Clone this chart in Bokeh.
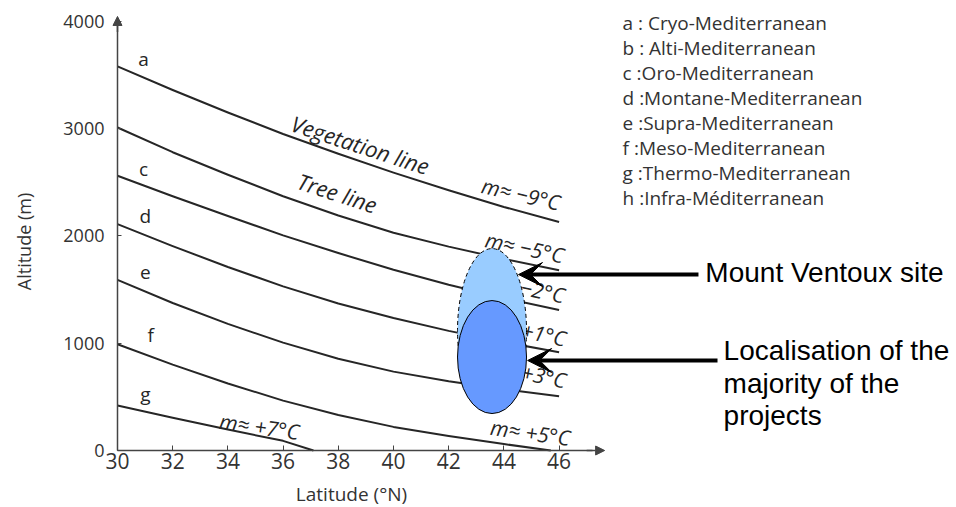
import math
from bokeh.plotting import figure
from bokeh.models import Range1d, FixedTicker, Arrow, VeeHead, NormalHead
from bokeh.core.properties import value
from bokeh.embed import file_html
from bokeh.resources import INLINE

# ---------------- data ----------------
lat_grid = [30, 32, 34, 36, 38, 40, 42, 44, 46]
alt_a_vegetation = [3580, 3360, 3150, 2950, 2765, 2590, 2425, 2270, 2130]
alt_b_tree = [3010, 2780, 2570, 2370, 2190, 2030, 1900, 1785, 1680]
alt_c = [2560, 2370, 2185, 2005, 1840, 1685, 1545, 1420, 1310]
alt_d = [2110, 1905, 1710, 1530, 1370, 1235, 1115, 1010, 916]
alt_e = [1590, 1375, 1180, 1005, 855, 735, 645, 570, 505]
lat_f = [30, 32, 34, 36, 38, 40, 42, 44, 45.7]
alt_f = [990, 800, 625, 465, 330, 220, 135, 60, 0]
lat_g = [30, 32, 34, 36, 37.1]
alt_g = [420, 305, 195, 90, 0]

lat_ticks = [30, 32, 34, 36, 38, 40, 42, 44, 46]
alt_ticks = [0, 1000, 2000, 3000, 4000]

zone_letters = ["a", "c", "d", "e", "f", "g"]
zone_legend = [
    "a :  Cryo-Mediterranean",
    "b :  Alti-Mediterranean",
    "c :Oro-Mediterranean",
    "d :Montane-Mediterranean",
    "e :Supra-Mediterranean",
    "f :Meso-Mediterranean",
    "g :Thermo-Mediterranean",
    "h :Infra-Méditerranean",
]
isotherm_labels = ["m≈ −9°C", "m≈ −5°C", "m≈ −2°C", "m≈ +1°C",
                   "m≈ +3°C", "m≈ +5°C", "m≈ +7°C"]

# zones of interest (centre lat, centre alt, width in deg, height in m)
ventoux_zone = (43.57, 1118, 2.50, 1528)
projects_zone = (43.57, 871, 2.50, 1053)

# ---------------- label placement (styling) ----------------
letter_lat = [30.94, 30.94, 31.01, 31.01, 31.2, 31.01]
letter_alt = [3653, 2628, 2190, 1659, 1072, 522]
iso_lat = [44.62, 44.75, 44.78, 44.82, 44.82, 44.96, 35.14]
iso_alt = [2390, 1892, 1519, 1118, 727, 168, 224]
iso_angle = [math.radians(a) for a in [-13, -12, -12, -12, -12, -8, -8]]
legend_lat = 48.30
legend_top = 3980
legend_step = 233

FONT = value("Open Sans")
INK = "#262626"

p = figure(width=956, height=507,
           x_range=Range1d(25.761, 60.399), y_range=Range1d(-531.2, 4193.8),
           output_backend="svg", toolbar_location=None,
           min_border_left=0, min_border_right=0, min_border_top=0, min_border_bottom=0)
p.outline_line_color = None
p.grid.visible = False
p.background_fill_color = "white"
p.border_fill_color = "white"

# axes crossing at (30, 0)
for ax in (p.xaxis[0], p.yaxis[0]):
    ax.axis_line_color = "#444444"
    ax.axis_line_width = 1.5
    ax.major_tick_line_color = "#444444"
    ax.major_tick_out = 0
    ax.minor_tick_in = 0
    ax.minor_tick_out = 0
    ax.major_label_text_font = "Open Sans"
    ax.major_label_text_color = "#333333"

p.xaxis.fixed_location = 0
p.xaxis.bounds = (30, 47.2)
p.xaxis.ticker = FixedTicker(ticks=lat_ticks)
p.xaxis.major_tick_in = 5
p.xaxis.major_label_standoff = 2
p.xaxis.major_label_text_font_size = "21px"

p.yaxis.fixed_location = 30
p.yaxis.bounds = (0, 3960)
p.yaxis.ticker = FixedTicker(ticks=alt_ticks)
p.yaxis.major_tick_in = 4
p.yaxis.major_label_standoff = 13
p.yaxis.major_label_text_font_size = "18px"

p.add_layout(Arrow(end=NormalHead(size=9, fill_color="#444444", line_color="#444444"),
                   x_start=47.0, y_start=0, x_end=47.65, y_end=0,
                   line_color="#444444", line_width=1.5))
p.add_layout(Arrow(end=NormalHead(size=9, fill_color="#444444", line_color="#444444"),
                   x_start=30, y_start=3900, x_end=30, y_end=4045,
                   line_color="#444444", line_width=1.5))

# axis titles
p.text(x=[26.63], y=[1948], text=["Altitude (m)"], angle=math.pi / 2,
       text_font=FONT, text_font_size="18px", text_color="#333333",
       text_align="center", text_baseline="middle")
p.text(x=[38.48], y=[-410], text=["Latitude (°N)"],
       text_font=FONT, text_font_size="19px", text_color="#333333",
       text_align="center", text_baseline="middle")

# zone boundaries
for xs, ys in [(lat_grid, alt_a_vegetation), (lat_grid, alt_b_tree), (lat_grid, alt_c),
               (lat_grid, alt_d), (lat_grid, alt_e), (lat_f, alt_f), (lat_g, alt_g)]:
    p.line(xs, ys, line_color=INK, line_width=2, line_join="round")

# zone letters
p.text(x=letter_lat, y=letter_alt, text=zone_letters, text_font=FONT,
       text_font_size="19px", text_color=INK, text_align="center", text_baseline="middle")

# line names
p.text(x=[38.80], y=[2852], text=["Vegetation line"], angle=math.radians(-18),
       text_font=FONT, text_font_style="italic", text_font_size="22px",
       text_color=INK, text_align="center", text_baseline="middle")
p.text(x=[37.97], y=[2404], text=["Tree line"], angle=math.radians(-18),
       text_font=FONT, text_font_style="italic", text_font_size="22px",
       text_color=INK, text_align="center", text_baseline="middle")

# isotherm labels
p.text(x=iso_lat, y=iso_alt, text=isotherm_labels, angle=iso_angle,
       text_font=FONT, text_font_style="italic", text_font_size="21px",
       text_color=INK, text_align="center", text_baseline="middle")

# legend text
legend_alt = [legend_top - i * legend_step for i in range(len(zone_legend))]
p.text(x=[legend_lat] * len(zone_legend), y=legend_alt, text=zone_legend,
       text_font=FONT, text_font_size="19px", text_color="#333333",
       text_align="left", text_baseline="middle")

# highlighted zones
vx, vy, vw, vh = ventoux_zone
p.ellipse(x=[vx], y=[vy], width=[vw], height=[vh], fill_color="#99ccff",
          line_color="black", line_width=1, line_dash="4 3")
px_, py_, pw, ph = projects_zone
p.ellipse(x=[px_], y=[py_], width=[pw], height=[ph], fill_color="#6699ff",
          line_color="black", line_width=1)

# annotation arrows
p.add_layout(Arrow(end=VeeHead(size=24, fill_color="black", line_color="black"),
                   x_start=51.05, y_start=1640, x_end=44.53, y_end=1640,
                   line_color="black", line_width=4))
p.add_layout(Arrow(end=VeeHead(size=24, fill_color="black", line_color="black"),
                   x_start=51.74, y_start=839, x_end=44.86, y_end=839,
                   line_color="black", line_width=4))

ARIAL = value("Liberation Sans")
p.text(x=[51.30], y=[1659], text=["Mount Ventoux site"], text_font=ARIAL,
       text_font_size="28px", text_color="black", text_align="left", text_baseline="middle")
p.text(x=[51.96] * 3, y=[932, 624, 326],
       text=["Localisation of the", "majority of the", "projects"], text_font=ARIAL,
       text_font_size="28px", text_color="black", text_align="left", text_baseline="middle")

open("out.html", "w").write(file_html(p, INLINE))
